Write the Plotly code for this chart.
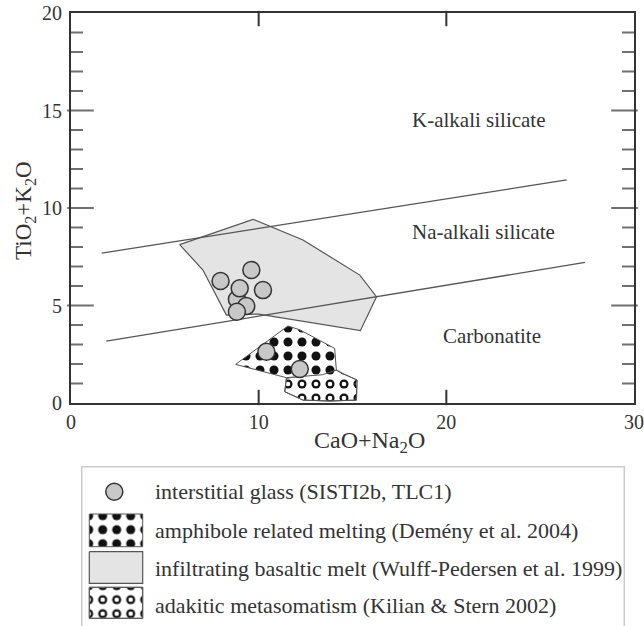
import plotly.graph_objects as go

# ---------------- data ----------------
glass_x = [8.84, 9.34, 8.84, 7.97, 9.61, 8.99, 10.23, 10.41, 12.19]
glass_y = [5.32, 4.97, 4.68, 6.26, 6.82, 5.88, 5.79, 2.63, 1.74]

basalt_x = [5.79, 9.70, 12.36, 15.39, 16.28, 15.42, 10.0, 8.28, 7.03, 5.79]
basalt_y = [8.12, 9.42, 8.36, 6.56, 5.45, 3.71, 4.56, 4.51, 6.82, 8.12]

amph_x = [8.77, 11.56, 12.2, 14.05, 14.14, 13.4, 11.47, 8.77]
amph_y = [1.98, 3.95, 3.75, 2.80, 1.69, 1.45, 1.30, 1.98]

adak_x = [11.48, 11.39, 12.36, 13.79, 15.21, 15.24, 14.5, 14.14, 11.48]
adak_y = [1.27, 0.58, 0.15, 0.10, 0.15, 1.18, 1.50, 1.69, 1.27]

line1_x = [1.64, 26.41]
line1_y = [7.69, 11.44]
line2_x = [1.88, 27.39]
line2_y = [3.17, 7.21]

field_labels = ["K-alkali silicate", "Na-alkali silicate", "Carbonatite"]
field_x = [21.74, 22.0, 22.45]
field_y = [14.51, 8.78, 3.44]

legend_labels = [
    "interstitial glass (SISTI2b, TLC1)",
    "amphibole related melting (Demény et al. 2004)",
    "infiltrating basaltic melt (Wulff-Pedersen et al. 1999)",
    "adakitic metasomatism (Kilian &amp; Stern 2002)",
]

x_range = [0, 30]
y_range = [0, 20]
x_major_ticks = [10, 20]
y_major_ticks = [5, 10, 15]
y_minor_ticks = [v for v in range(1, 20) if v % 5]

# ---------------- style ----------------
FONT = "Liberation Serif, serif"
TXT = "#333333"
AX = "#333333"
EDGE = "#555555"
GRAYFILL = "#e4e4e4"
GLASSFILL = "#c8c8c8"

DOT = dict(shape=".", size=14, solidity=0.33, fgcolor="#111111", bgcolor="white", fillmode="replace")
RING_OUT = dict(shape=".", size=14, solidity=0.33, fgcolor="#111111", bgcolor="white", fillmode="replace")
RING_IN = dict(shape=".", size=14, solidity=0.085, fgcolor="white", bgcolor="rgba(0,0,0,0)", fillmode="replace")

W, H = 644, 626
ML, MR, MT, MB = 71, 10, 13, 0
ph = H - MT - MB
pw = W - ML - MR
PLOT_BOTTOM = 403
y_bottom = (H - PLOT_BOTTOM - MB) / ph
leg_l, leg_r, leg_t = (81.7 - ML) / pw, (624.3 - ML) / pw, (H - 466.7) / ph

x_px = pw / (x_range[1] - x_range[0])
y_px = (PLOT_BOTTOM - MT) / (y_range[1] - y_range[0])
Y_MAJOR_LEN, Y_MINOR_LEN, X_LEN = 19, 10, 11

fig = go.Figure()

fig.add_trace(go.Scatter(x=basalt_x, y=basalt_y, mode="lines", fill="toself",
                         fillcolor=GRAYFILL, line=dict(color=EDGE, width=1.2),
                         hoverinfo="skip", showlegend=False))
for lx, ly in [(line1_x, line1_y), (line2_x, line2_y)]:
    fig.add_trace(go.Scatter(x=lx, y=ly, mode="lines", line=dict(color=EDGE, width=1.3),
                             hoverinfo="skip", showlegend=False))
fig.add_trace(go.Scatter(x=adak_x, y=adak_y, mode="lines", fill="toself", fillcolor="white",
                         fillpattern=RING_OUT, line=dict(color=EDGE, width=1),
                         hoverinfo="skip", showlegend=False))
fig.add_trace(go.Scatter(x=adak_x, y=adak_y, mode="lines", fill="toself", fillcolor="rgba(0,0,0,0)",
                         fillpattern=RING_IN, line=dict(color=EDGE, width=1),
                         hoverinfo="skip", showlegend=False))
fig.add_trace(go.Scatter(x=amph_x, y=amph_y, mode="lines", fill="toself", fillcolor="white",
                         fillpattern=DOT, line=dict(color=EDGE, width=1),
                         hoverinfo="skip", showlegend=False))
fig.add_trace(go.Scatter(x=glass_x, y=glass_y, mode="markers",
                         marker=dict(size=17, color=GLASSFILL, line=dict(color="#333333", width=1.5)),
                         hoverinfo="skip", showlegend=False))

# inside tick marks on all four sides, drawn as line markers from the tick value lists
hx, hy, hs = [], [], []
x0, x1 = x_range
y0, y1 = y_range
for vals, ln in [(y_major_ticks, Y_MAJOR_LEN), (y_minor_ticks, Y_MINOR_LEN)]:
    half = ln / 2 / x_px
    for v in vals:
        hx += [x0 + half, x1 - half]
        hy += [v, v]
        hs += [ln, ln]
fig.add_trace(go.Scatter(x=hx, y=hy, mode="markers", cliponaxis=False,
                         marker=dict(symbol="line-ew", size=hs, color=AX,
                                     line=dict(color=AX, width=2)),
                         hoverinfo="skip", showlegend=False))
vx, vy = [], []
half = X_LEN / 2 / y_px
for v in x_major_ticks:
    vx += [v, v]
    vy += [y0 + half, y1 - half]
fig.add_trace(go.Scatter(x=vx, y=vy, mode="markers", cliponaxis=False,
                         marker=dict(symbol="line-ns", size=X_LEN, color=AX,
                                     line=dict(color=AX, width=2)),
                         hoverinfo="skip", showlegend=False))

for t, x, y in zip(field_labels, field_x, field_y):
    fig.add_annotation(x=x, y=y, xref="x", yref="y", text=t, showarrow=False,
                       xanchor="center", yanchor="middle",
                       font=dict(family=FONT, size=21, color=TXT))

# ---------------- legend (own axes, units = px from legend box top-left) ----------------
sw_x0, sw_x1 = 7.6, 61.0
boxes = [(47.3, 80.0), (85.0, 116.6), (120.6, 151.6)]
row_y = [25.0, 63.3, 101.6, 138.3]

fig.add_trace(go.Scatter(x=[32.6], y=[row_y[0]], xaxis="x2", yaxis="y2", mode="markers",
                         marker=dict(size=17, color=GLASSFILL, line=dict(color="#333333", width=1.5)),
                         hoverinfo="skip", showlegend=False))
def rect(b):
    return [sw_x0, sw_x1, sw_x1, sw_x0, sw_x0], [b[0], b[0], b[1], b[1], b[0]]
rx, ry = rect(boxes[0])
fig.add_trace(go.Scatter(x=rx, y=ry, xaxis="x2", yaxis="y2", mode="lines", fill="toself",
                         fillcolor="white", fillpattern=DOT, line=dict(color=EDGE, width=1),
                         hoverinfo="skip", showlegend=False))
rx, ry = rect(boxes[1])
fig.add_trace(go.Scatter(x=rx, y=ry, xaxis="x2", yaxis="y2", mode="lines", fill="toself",
                         fillcolor=GRAYFILL, line=dict(color=EDGE, width=1.2),
                         hoverinfo="skip", showlegend=False))
rx, ry = rect(boxes[2])
fig.add_trace(go.Scatter(x=rx, y=ry, xaxis="x2", yaxis="y2", mode="lines", fill="toself",
                         fillcolor="white", fillpattern=RING_OUT, line=dict(color=EDGE, width=1),
                         hoverinfo="skip", showlegend=False))
fig.add_trace(go.Scatter(x=rx, y=ry, xaxis="x2", yaxis="y2", mode="lines", fill="toself",
                         fillcolor="rgba(0,0,0,0)", fillpattern=RING_IN, line=dict(color=EDGE, width=1),
                         hoverinfo="skip", showlegend=False))
for t, y in zip(legend_labels, row_y):
    fig.add_annotation(x=71, y=y, xref="x2", yref="y2", text=t, showarrow=False,
                       xanchor="left", yanchor="middle",
                       font=dict(family=FONT, size=22, color=TXT))

fig.add_shape(type="rect", xref="paper", yref="paper", x0=leg_l, x1=leg_r, y0=-0.05, y1=leg_t,
              line=dict(color="#555555", width=1.5), fillcolor="rgba(0,0,0,0)", layer="below")

fig.add_annotation(x=15.9, y=(H - 442 - MB) / ph, xref="x", yref="paper", text="CaO+Na<sub>2</sub>O",
                   showarrow=False, xanchor="center", yanchor="middle",
                   font=dict(family=FONT, size=24, color=TXT))
fig.add_annotation(x=(25 - ML) / pw, y=(H - 211 - MB) / ph, xref="paper", yref="paper",
                   text="TiO<sub>2</sub>+K<sub>2</sub>O", showarrow=False, textangle=-90,
                   xanchor="center", yanchor="middle",
                   font=dict(family=FONT, size=23, color=TXT))

tickfont = dict(family=FONT, size=20, color=TXT)
fig.update_layout(
    template="simple_white",
    width=W, height=H,
    margin=dict(l=ML, r=MR, t=MT, b=MB, autoexpand=False),
    paper_bgcolor="white", plot_bgcolor="white",
    font=dict(family=FONT, color=TXT),
    xaxis=dict(range=x_range, dtick=10, ticks="", automargin=False,
               showline=True, linewidth=2, linecolor=AX, mirror=True,
               showgrid=False, zeroline=False, ticklabelstandoff=0,
               tickfont=tickfont, domain=[0, 1]),
    yaxis=dict(range=y_range, dtick=5, ticks="", automargin=False,
               showline=True, linewidth=2, linecolor=AX, mirror=True,
               showgrid=False, zeroline=False, ticklabelstandoff=3,
               tickfont=tickfont, domain=[y_bottom, 1]),
    xaxis2=dict(range=[0, 542.6], domain=[leg_l, leg_r], anchor="y2", automargin=False,
                showline=False, ticks="", showticklabels=False, showgrid=False, zeroline=False),
    yaxis2=dict(range=[159.3, 0], domain=[0, leg_t], anchor="x2", automargin=False,
                showline=False, ticks="", showticklabels=False, showgrid=False, zeroline=False),
)

fig.write_html("out.html")
